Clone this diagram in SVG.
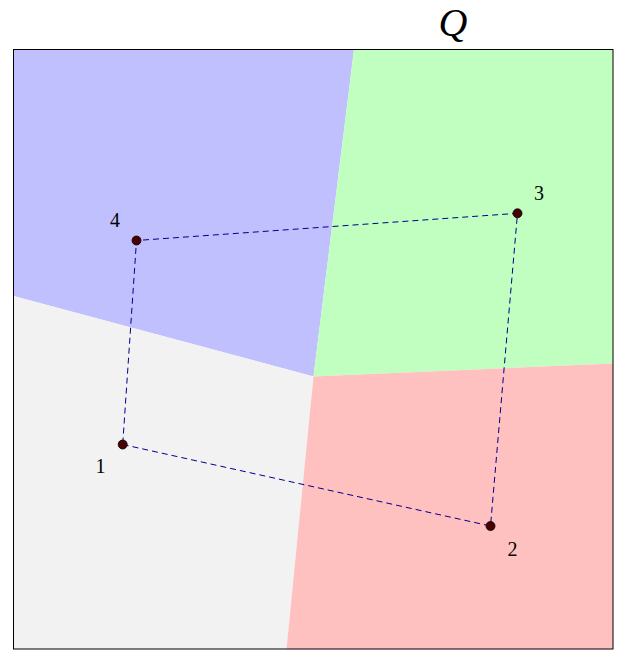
<svg xmlns="http://www.w3.org/2000/svg" width="623" height="652" viewBox="0 0 623 652">
<style>
.lbl{font-family:"Liberation Serif",serif;font-size:20px;fill:#000;text-anchor:middle}
.pt{fill:#4a0000;stroke:#000;stroke-width:0.8}
.dash{stroke:#00008b;stroke-width:1;stroke-dasharray:6,4;fill:none}
</style>
<rect x="0" y="0" width="623" height="652" fill="#fff"/>
<g id="regions">
<polygon id="blue" points="13.5,49.5 354,49.5 313.5,376.5 13.5,296" fill="#c0c0ff"/>
<polygon id="green" points="354,49.5 613,49.5 613,363.5 313.5,376.5" fill="#c0ffc0"/>
<polygon id="gray" points="13.5,296 313.5,376.5 286.5,649 13.5,649" fill="#f2f2f2"/>
<polygon id="red" points="313.5,376.5 613,363.5 613,649 286.5,649" fill="#ffc0c0"/>
<rect x="13.5" y="49.5" width="599.5" height="599.5" fill="none" stroke="#000" stroke-width="1"/>
</g>
<g id="connectors">
<polyline class="dash" points="122.7,444.5 490.5,526 517.5,213.3 136.5,240.5 122.7,444.5"/>
</g>
<g id="n1"><circle class="pt" cx="122.7" cy="444.5" r="4.5"/><text class="lbl" x="100.5" y="473">1</text></g>
<g id="n2"><circle class="pt" cx="490.5" cy="526" r="4.5"/><text class="lbl" x="512.5" y="556">2</text></g>
<g id="n3"><circle class="pt" cx="517.5" cy="213.3" r="4.5"/><text class="lbl" x="539" y="200">3</text></g>
<g id="n4"><circle class="pt" cx="136.5" cy="240.5" r="4.5"/><text class="lbl" x="115" y="227">4</text></g>
<text x="453" y="36" font-family="Liberation Serif,serif" font-style="italic" font-size="40" text-anchor="middle">Q</text>
</svg>
